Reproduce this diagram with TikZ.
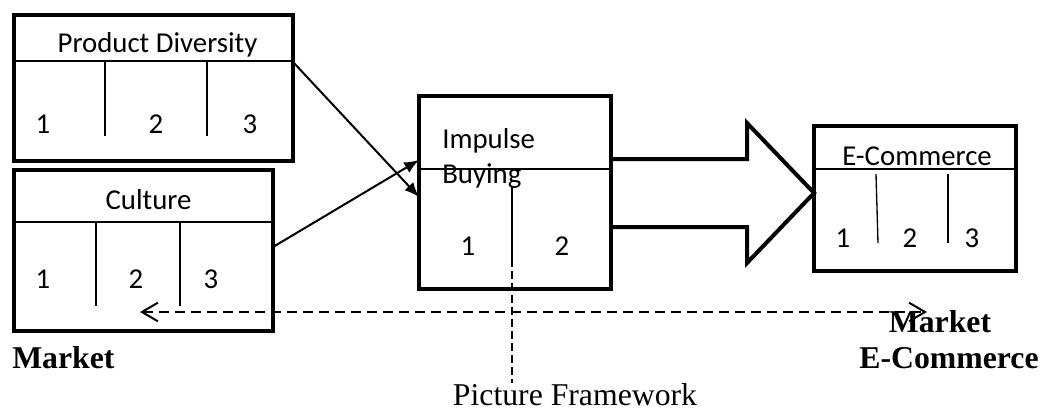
\documentclass[tikz,border=0pt]{standalone}
\usepackage{fontspec}
\setmainfont{Liberation Serif}
\newfontfamily\calibri{Carlito}
\usetikzlibrary{arrows.meta}

\tikzset{
  panel/.style={draw, line width=3.2pt, inner sep=0pt, outer sep=0pt},
  lbl/.style={font=\calibri\fontsize{21.6}{26}\selectfont, inner sep=0pt, anchor=base},
  captext/.style={font=\fontsize{23.8}{28}\selectfont, inner sep=0pt, anchor=base},
  boldtext/.style={font=\fontsize{23.8}{28}\selectfont\bfseries, inner sep=0pt, anchor=base},
  rule/.style={line width=1pt},
  conn/.style={line width=1.5pt, -{Latex[length=11pt,width=9pt]}},
  barb/.tip={Straight Barb[length=12pt,width=14pt,line width=1.5pt]},
}

\begin{document}
\begin{tikzpicture}[x=0.75pt,y=-0.75pt]
\useasboundingbox (0,0) rectangle (1042,410);
% boxes
\node[panel, minimum width=209.25pt, minimum height=109.5pt] (pd) at (153.5,88) {};
\node[panel, minimum width=194.25pt, minimum height=120.75pt] (cu) at (143.5,250.5) {};
\node[panel, minimum width=144pt, minimum height=144.75pt] (ib) at (515,192.5) {};
\node[panel, minimum width=151.5pt, minimum height=108.75pt] (ec) at (915,198.5) {};
% header rules and dividers
\draw[rule] (pd.west |- 0,61) -- (pd.east |- 0,61);
\draw[rule] (105,61) -- (105,136);
\draw[rule] (207,61) -- (207,136);
\draw[rule] (cu.west |- 0,222) -- (cu.east |- 0,222);
\draw[rule] (96,222) -- (96,306);
\draw[rule] (180,222) -- (180,306);
\draw[rule] (ib.west |- 0,169) -- (ib.east |- 0,169);
\coordinate (ibdiv) at (512,187);
\draw[rule] (ibdiv) -- (512,263);
\draw[rule] (ec.west |- 0,169) -- (ec.east |- 0,169);
\draw[rule] (876,174) -- (878,243);
\draw[rule] (948,174) -- (948,243);
% labels
\node[lbl] (pdt) at (157.5,53) {Product Diversity};
\node[lbl] (pd1) at (43,133) {1};
\node[lbl] (pd2) at (156,133) {2};
\node[lbl] (pd3) at (250,133) {3};
\node[lbl] (cut) at (148.5,209) {Culture};
\node[lbl] (cu1) at (43,288) {1};
\node[lbl] (cu2) at (136,288) {2};
\node[lbl] (cu3) at (211,288) {3};
\node[lbl, anchor=base west] (ibt) at (442,148) {Impulse};
\node[lbl, anchor=base west] (ibb) at (442,183) {Buying};
\node[lbl] (ib1) at (468,255) {1};
\node[lbl] (ib2) at (562,255) {2};
\node[lbl] (ect) at (917,165) {E-Commerce};
\node[lbl] (ec1) at (843,247) {1};
\node[lbl] (ec2) at (910,247) {2};
\node[lbl] (ec3) at (972,247) {3};
\node[boldtext, anchor=base west] (mk) at (12,368) {Market};
\node[boldtext] (mke) at (940,332) {Market};
\node[boldtext] (ecm) at (949,368) {E-Commerce};
\node[captext] (pf) at (575,405) {Picture Framework};
% connectors
\draw[conn] (pd.east |- 0,62) -- (ib.west |- 0,197);
\draw[conn] (cu.east |- 0,247) -- (ib.west |- 0,160);
\draw[line width=3pt] (ib.east |- 0,159) -- (747,159) -- (747,123) -- (ec.west |- 0,193)
  -- (747,263) -- (747,227) -- (ib.east |- 0,227);
\coordinate (mkend) at (140,312);
\coordinate (ecend) at (927,312);
\draw[line width=1.5pt, dash pattern=on 7.5pt off 4.5pt, barb-barb] (mkend) -- (ecend);
\draw[rule, dash pattern=on 6pt off 3pt] (ibdiv) -- (ibdiv |- pf.north);
\end{tikzpicture}
\end{document}
